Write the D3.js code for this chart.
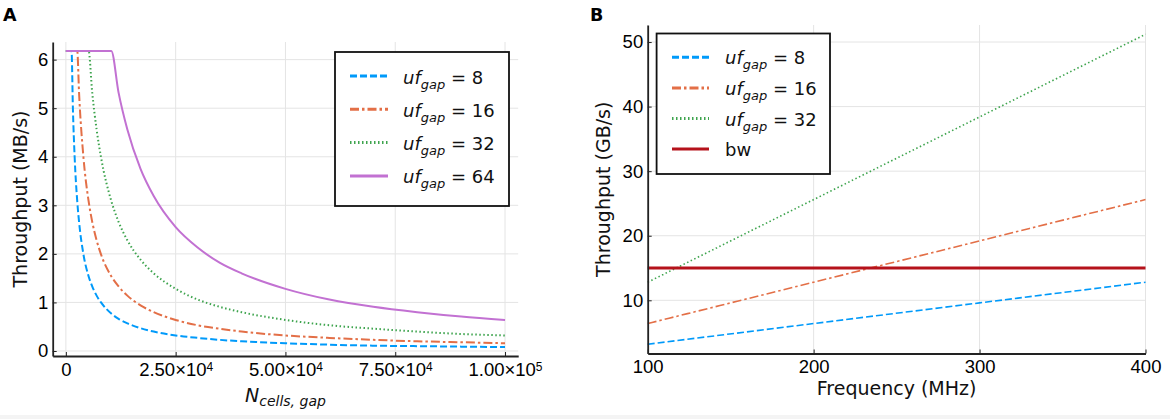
<!DOCTYPE html>
<html>
<head>
<meta charset="utf-8">
<script src="https://cdn.jsdelivr.net/npm/d3@7"></script>
<style>
  body { margin: 0; background: #fff; }
  svg { display: block; font-family: "DejaVu Sans", sans-serif; }
  .grid line { stroke: #e4e4e4; stroke-width: 1; }
  .axis path, .axis line { stroke: #222; }
  .axis path { stroke-width: 1.8; }
  .axis text { fill: #000; font-size: 18.5px; }
</style>
</head>
<body>
<svg width="1170" height="419"></svg>
<script>
// ---- panel A : throughput vs number of cells ----
const nCells = [0, 1000, 1290, 1600, 2000, 2590, 3000, 4000, 5170, 6000, 7000, 8000, 10340,
  12000, 14000, 17000, 20000, 25000, 30000, 35000, 40000, 50000, 60000, 70000, 80000, 90000, 100000];
const mbsUf8 = [6.18, 6.18, 6.18, 4.99, 3.99, 3.08, 2.66, 1.99, 1.54, 1.33, 1.14, 1.00, 0.77,
  0.66, 0.57, 0.47, 0.40, 0.32, 0.27, 0.23, 0.20, 0.16, 0.13, 0.11, 0.10, 0.09, 0.08];
const mbsUf16 = [6.18, 6.18, 6.18, 6.18, 6.18, 6.18, 5.32, 3.99, 3.09, 2.66, 2.28, 1.99, 1.54,
  1.33, 1.14, 0.94, 0.80, 0.64, 0.53, 0.46, 0.40, 0.32, 0.27, 0.23, 0.20, 0.18, 0.16];
const mbsUf32 = [6.18, 6.18, 6.18, 6.18, 6.18, 6.18, 6.18, 6.18, 6.18, 5.32, 4.56, 3.99, 3.09,
  2.66, 2.28, 1.88, 1.60, 1.28, 1.06, 0.91, 0.80, 0.64, 0.53, 0.46, 0.40, 0.35, 0.32];
const mbsUf64 = [6.18, 6.18, 6.18, 6.18, 6.18, 6.18, 6.18, 6.18, 6.18, 6.18, 6.18, 6.18, 6.18,
  5.32, 4.56, 3.75, 3.19, 2.55, 2.13, 1.82, 1.60, 1.28, 1.06, 0.91, 0.80, 0.71, 0.64];
const ticksA_x = [0, 25000, 50000, 75000, 100000];
const ticksA_xLabels = [["0", ""], ["2.50×10", "4"], ["5.00×10", "4"], ["7.50×10", "4"], ["1.00×10", "5"]];
const ticksA_y = [0, 1, 2, 3, 4, 5, 6];

// ---- panel B : throughput vs frequency ----
const freqMHz = [100, 200, 300, 400];
const gbsUf8 = [3.2, 6.4, 9.6, 12.8];
const gbsUf16 = [6.4, 12.8, 19.2, 25.6];
const gbsUf32 = [12.8, 25.6, 38.4, 51.2];
const bwGBs = [15, 15, 15, 15];
const ticksB_x = [100, 200, 300, 400];
const ticksB_y = [10, 20, 30, 40, 50];

const ufLabels = ["8", "16", "32", "64"];

const styles = [
  { color: "#009afa", dash: "7,3" },
  { color: "#e36f47", dash: "9,3,2.5,3" },
  { color: "#3ea44e", dash: "1.5,2.5" },
  { color: "#c271d2", dash: null },
];
const bwStyle = { color: "#b5121b", dash: null };

const svg = d3.select("svg");

// faint grey strip along the bottom edge of the figure
svg.append("rect").attr("x", 0).attr("y", 415).attr("width", 1170).attr("height", 4).attr("fill", "#f4f4f4");

function drawPanel(opt) {
  const g = svg.append("g");
  const x = d3.scaleLinear().domain(opt.xDomain).range(opt.xRange);
  const y = d3.scaleLinear().domain(opt.yDomain).range(opt.yRange);

  // grid
  const grid = g.append("g").classed("grid", true);
  grid.selectAll(".gx").data(opt.xTicks).enter().append("line")
    .attr("x1", d => x(d)).attr("x2", d => x(d))
    .attr("y1", opt.yRange[0]).attr("y2", opt.yRange[1]);
  grid.selectAll(".gy").data(opt.yTicks).enter().append("line")
    .attr("x1", opt.xRange[0]).attr("x2", opt.xRange[1])
    .attr("y1", d => y(d)).attr("y2", d => y(d));

  // series
  const line = d3.line().x(d => x(d[0])).y(d => y(d[1])).curve(d3.curveMonotoneX);
  opt.series.forEach(s => {
    g.append("path")
      .datum(opt.xs.map((v, i) => [v, s.values[i]]))
      .attr("fill", "none")
      .attr("stroke", s.style.color)
      .attr("stroke-width", s.width)
      .attr("stroke-dasharray", s.style.dash)
      .attr("d", line);
  });

  // axes
  const ax = g.append("g").classed("axis", true)
    .attr("transform", `translate(0,${opt.yRange[0]})`)
    .call(d3.axisBottom(x).tickValues(opt.xTicks).tickSizeInner(-4).tickSizeOuter(0).tickPadding(opt.xPad));
  ax.selectAll("text").text(null);
  ax.selectAll(".tick text").each(function (d, i) {
    const t = d3.select(this);
    const lab = opt.xLabels[i];
    t.append("tspan").text(lab[0]);
    if (lab[1]) t.append("tspan").attr("font-size", "12px").attr("dy", "-0.45em").text(lab[1]);
  });
  g.append("g").classed("axis", true)
    .attr("transform", `translate(${opt.xRange[0]},0)`)
    .call(d3.axisLeft(y).tickValues(opt.yTicks).tickSizeInner(-4).tickSizeOuter(0).tickPadding(4.5).tickFormat(d3.format("d")));

  // axis titles
  g.append("text")
    .attr("transform", `translate(${opt.yTitleX},${(opt.yRange[0] + opt.yRange[1]) / 2}) rotate(-90)`)
    .attr("text-anchor", "middle").attr("font-size", "19px").attr("fill", "#111")
    .text(opt.yTitle);
  const xt = g.append("text")
    .attr("x", (opt.xRange[0] + opt.xRange[1]) / 2).attr("y", opt.xTitleY)
    .attr("text-anchor", "middle").attr("font-size", "19px").attr("fill", "#111");
  opt.xTitle(xt);

  // panel letter
  g.append("text").attr("x", opt.letterX).attr("y", 20.5)
    .attr("font-size", "17.5px").attr("font-weight", "bold").text(opt.letter);

  // legend
  const L = opt.legend;
  g.append("rect").attr("x", L.x).attr("y", L.y).attr("width", L.w).attr("height", L.h)
    .attr("fill", "#fff").attr("stroke", "#111").attr("stroke-width", 1.8);
  L.items.forEach((it, i) => {
    const cy = L.y0 + i * L.step;
    g.append("line").attr("x1", L.lx0).attr("x2", L.lx1).attr("y1", cy).attr("y2", cy)
      .attr("stroke", it.style.color).attr("stroke-width", it.width)
      .attr("stroke-dasharray", it.style.dash);
    const t = g.append("text").attr("x", L.tx).attr("y", cy + L.base)
      .attr("font-size", "18px").attr("fill", "#111");
    if (it.uf) {
      t.append("tspan").attr("font-style", "italic").text("uf");
      t.append("tspan").attr("font-style", "italic").attr("font-size", "13px").attr("dy", "5").text("gap");
      t.append("tspan").attr("dy", "-5").text(" = " + it.uf);
    } else {
      t.text(it.text);
    }
  });
}

drawPanel({
  letter: "A", letterX: 3,
  xDomain: [-3000, 103000], xRange: [52.7, 518.2],
  yDomain: [-0.103, 6.363], yRange: [356, 42],
  xTicks: ticksA_x, xLabels: ticksA_xLabels, yTicks: ticksA_y, xPad: 7,
  xs: nCells,
  series: [mbsUf8, mbsUf16, mbsUf32, mbsUf64].map((v, i) => ({ values: v, style: styles[i], width: 2 })),
  yTitle: "Throughput (MB/s)", yTitleX: 27,
  xTitleY: 402,
  xTitle: t => {
    t.append("tspan").attr("font-style", "italic").text("N");
    t.append("tspan").attr("font-style", "italic").attr("font-size", "14px").attr("dy", "4").text("cells, gap");
  },
  legend: {
    x: 335, y: 52, w: 174, h: 154, y0: 76, step: 33.3, lx0: 350, lx1: 388, tx: 403, base: 7.5,
    items: ufLabels.map((u, i) => ({ uf: u, style: styles[i], width: 3 })),
  },
});

drawPanel({
  letter: "B", letterX: 590,
  xDomain: [100, 400], xRange: [647.7, 1145.5],
  yDomain: [1.76, 52.64], yRange: [353.5, 25],
  xTicks: ticksB_x, xLabels: ticksB_x.map(d => [String(d), ""]), yTicks: ticksB_y, xPad: 6,
  xs: freqMHz,
  series: [gbsUf8, gbsUf16, gbsUf32].map((v, i) => ({ values: v, style: styles[i], width: 1.6 }))
    .concat([{ values: bwGBs, style: bwStyle, width: 3 }]),
  yTitle: "Throughput (GB/s)", yTitleX: 610,
  xTitleY: 395,
  xTitle: t => t.text("Frequency (MHz)"),
  legend: {
    x: 656.6, y: 33.5, w: 173.4, h: 140.5, y0: 57.3, step: 30.6, lx0: 672, lx1: 709, tx: 725, base: 7,
    items: ufLabels.slice(0, 3).map((u, i) => ({ uf: u, style: styles[i], width: 3 }))
      .concat([{ text: "bw", style: bwStyle, width: 3 }]),
  },
});
</script>
</body>
</html>
